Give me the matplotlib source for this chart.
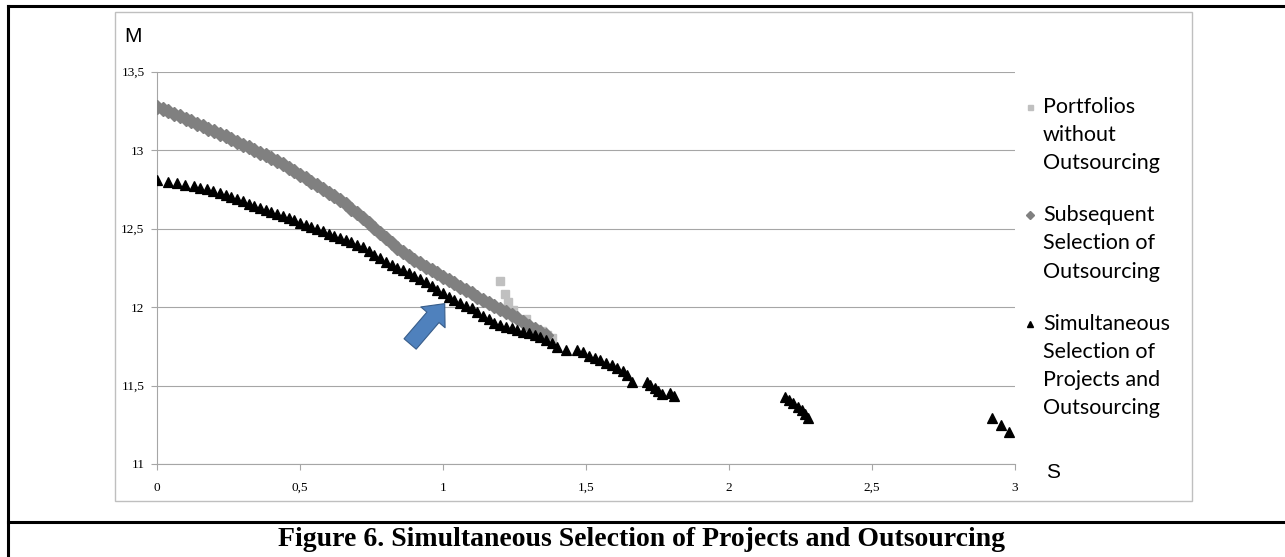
import matplotlib
matplotlib.use("Agg")
import matplotlib.pyplot as plt
from matplotlib.lines import Line2D
from matplotlib.patches import Rectangle, FancyArrowPatch, ArrowStyle

# ---------------- data ----------------
y_ticks = [11, 11.5, 12, 12.5, 13, 13.5]
y_tick_labels = ["11", "11,5", "12", "12,5", "13", "13,5"]
x_ticks = [0, 0.5, 1, 1.5, 2, 2.5, 3]
x_tick_labels = ["0", "0,5", "1", "1,5", "2", "2,5", "3"]

legend_labels = ["Portfolios\nwithout\nOutsourcing",
                 "Subsequent\nSelection of\nOutsourcing",
                 "Simultaneous\nSelection of\nProjects and\nOutsourcing"]

# Portfolios without Outsourcing (light grey squares)
port_s = [1.199, 1.217, 1.226, 1.245, 1.290, 1.327, 1.345, 1.362, 1.380]
port_m = [12.169, 12.082, 12.035, 11.982, 11.925, 11.860, 11.850, 11.823, 11.800]

# Subsequent Selection of Outsourcing (grey diamonds)
subs_s = [0.00, 0.02, 0.04, 0.06, 0.08, 0.10, 0.12, 0.14, 0.16, 0.18,
          0.20, 0.22, 0.24, 0.26, 0.28, 0.30, 0.32, 0.34, 0.36, 0.38,
          0.40, 0.42, 0.44, 0.46, 0.48, 0.50, 0.52, 0.54, 0.56, 0.58,
          0.60, 0.62, 0.64, 0.66, 0.68, 0.70, 0.72, 0.74, 0.76, 0.78,
          0.80, 0.82, 0.84, 0.86, 0.88, 0.90, 0.92, 0.94, 0.96, 0.98,
          1.00, 1.02, 1.04, 1.06, 1.08, 1.10, 1.12, 1.14, 1.16, 1.18,
          1.20, 1.22, 1.24, 1.26, 1.28, 1.30, 1.32, 1.34, 1.36]
subs_m = [13.275, 13.262, 13.247, 13.232, 13.216, 13.200, 13.184, 13.168, 13.152, 13.136,
          13.120, 13.104, 13.088, 13.071, 13.054, 13.036, 13.019, 13.002, 12.985, 12.967,
          12.949, 12.929, 12.909, 12.888, 12.866, 12.844, 12.822, 12.799, 12.776, 12.753,
          12.730, 12.706, 12.681, 12.655, 12.627, 12.598, 12.568, 12.537, 12.505, 12.472,
          12.440, 12.408, 12.378, 12.350, 12.325, 12.300, 12.278, 12.256, 12.235, 12.214,
          12.193, 12.172, 12.151, 12.130, 12.108, 12.087, 12.066, 12.046, 12.026, 12.007,
          11.988, 11.970, 11.950, 11.928, 11.904, 11.880, 11.858, 11.840, 11.825]

# Simultaneous Selection of Projects and Outsourcing (black triangles)
simu_s = [0.000, 0.040, 0.070, 0.099, 0.128, 0.151, 0.175, 0.197, 0.22, 0.24,
          0.26, 0.28, 0.30, 0.32, 0.34, 0.36, 0.38, 0.40, 0.42, 0.44,
          0.46, 0.48, 0.50, 0.52, 0.54, 0.56, 0.58, 0.60, 0.62, 0.64,
          0.66, 0.68, 0.70, 0.72, 0.74, 0.76, 0.78, 0.80, 0.82, 0.84,
          0.86, 0.88, 0.90, 0.92, 0.94, 0.96, 0.98, 1.00, 1.02, 1.04,
          1.06, 1.08, 1.10, 1.12, 1.14, 1.16, 1.18, 1.20, 1.22, 1.24,
          1.26, 1.28, 1.30, 1.32, 1.34, 1.36, 1.38, 1.40, 1.43, 1.47,
          1.49, 1.51, 1.53, 1.55, 1.57, 1.59, 1.61, 1.63, 1.645, 1.66,
          1.712, 1.725, 1.74, 1.752, 1.765, 1.794, 1.808,
          2.196, 2.21, 2.225, 2.24, 2.255, 2.267, 2.277,
          2.92, 2.95, 2.98]
simu_m = [12.810, 12.800, 12.790, 12.780, 12.770, 12.760, 12.750, 12.742, 12.727, 12.713,
          12.699, 12.686, 12.674, 12.660, 12.647, 12.633, 12.620, 12.606, 12.593, 12.579,
          12.566, 12.552, 12.538, 12.524, 12.510, 12.496, 12.482, 12.468, 12.454, 12.440,
          12.426, 12.412, 12.398, 12.380, 12.356, 12.332, 12.310, 12.290, 12.268, 12.250,
          12.235, 12.218, 12.198, 12.178, 12.157, 12.136, 12.112, 12.090, 12.066, 12.044,
          12.025, 12.010, 11.995, 11.970, 11.945, 11.922, 11.900, 11.886, 11.874, 11.864,
          11.854, 11.844, 11.834, 11.823, 11.811, 11.792, 11.770, 11.745, 11.727, 11.727,
          11.712, 11.690, 11.676, 11.660, 11.645, 11.628, 11.610, 11.590, 11.565, 11.525,
          11.525, 11.505, 11.485, 11.465, 11.445, 11.450, 11.434,
          11.430, 11.410, 11.388, 11.365, 11.342, 11.318, 11.295,
          11.296, 11.250, 11.203]

# ---------------- layout ----------------
W, H = 1285, 557
fig = plt.figure(figsize=(W / 100, H / 100), dpi=100)

def fx(x):
    return x / W

def fy(y):
    return 1 - y / H

ax_l, ax_r, ax_t, ax_b = 157, 1015, 71.7, 464
ax = fig.add_axes([fx(ax_l), fy(ax_b), (ax_r - ax_l) / W, (ax_b - ax_t) / H])

c_light = "#c0c0c0"
c_grey = "#808080"
c_black = "#000000"

ax.plot(port_s, port_m, linestyle="none", marker="s", ms=5.2, color=c_light,
        mec=c_light, zorder=3)
ax.plot(subs_s, subs_m, linestyle="none", marker="D", ms=7.4, color=c_grey,
        mec=c_grey, zorder=4)
ax.plot(simu_s, simu_m, linestyle="none", marker="^", ms=6.6, color=c_black,
        mec=c_black, mew=0.9, zorder=5)

ax.set_xlim(0, 3)
ax.set_ylim(11, 13.5)
ax.set_xticks(x_ticks)
ax.set_xticklabels(x_tick_labels)
ax.set_yticks(y_ticks)
ax.set_yticklabels(y_tick_labels)
grid_c = "#a6a6a6"
ax.yaxis.grid(True, color=grid_c, lw=0.8)
ax.set_axisbelow(True)
for sp in ["top", "right"]:
    ax.spines[sp].set_visible(False)
for sp in ["left", "bottom"]:
    ax.spines[sp].set_color(grid_c)
    ax.spines[sp].set_linewidth(0.8)
ax.tick_params(axis="x", direction="out", length=4, width=0.8, color=grid_c,
               pad=9, labelsize=9.5)
ax.tick_params(axis="y", direction="out", length=4, width=0.8, color=grid_c,
               pad=5, labelsize=9.5)
for lab in ax.get_xticklabels() + ax.get_yticklabels():
    lab.set_family("Liberation Serif")

# blue block arrow
arr = FancyArrowPatch(posA=(0.885, 11.765), posB=(1.006, 12.022),
                      arrowstyle=ArrowStyle.Simple(head_length=13, head_width=23,
                                                   tail_width=11.5),
                      mutation_scale=1, fc="#4F81BD", ec="#385D8A", lw=0.8,
                      shrinkA=0, shrinkB=0, zorder=6)
ax.add_patch(arr)

# axis letters
fig.text(fx(124), fy(37), "M", family="Liberation Sans", fontsize=15,
         ha="left", va="center")
fig.text(fx(1046), fy(473), "S", family="Liberation Sans", fontsize=15,
         ha="left", va="center")

# legend
line_y = [[106.7, 135, 163.3], [215, 243.3, 271.7], [324, 351.7, 380, 408.3]]
leg_markers = [("s", c_light, 3.6), ("D", c_grey, 3.6), ("^", c_black, 4.2)]
for lbl, ys, (mk, col, ms) in zip(legend_labels, line_y, leg_markers):
    for line, yy in zip(lbl.split("\n"), ys):
        fig.text(fx(1043), fy(yy), line, family="Lato", fontsize=15.5,
                 ha="left", va="center")
    fig.add_artist(Line2D([fx(1030)], [fy(ys[0])], transform=fig.transFigure,
                          marker=mk, ms=ms, color=col, mec=col, linestyle="none"))

# chart frame
fig.add_artist(Rectangle((fx(115), fy(501)), (1192 - 115) / W, (501 - 12) / H,
                         transform=fig.transFigure, fill=False, ec="#bfbfbf",
                         lw=1.0))

# outer table borders
fig.add_artist(Line2D([fx(8), fx(W)], [fy(6), fy(6)], transform=fig.transFigure,
                      color="black", lw=2.2))
fig.add_artist(Line2D([fx(8), fx(8)], [fy(6), fy(H)], transform=fig.transFigure,
                      color="black", lw=2.2))
fig.add_artist(Line2D([fx(8), fx(W)], [fy(522), fy(522)], transform=fig.transFigure,
                      color="black", lw=2.2))

# caption
fig.text(fx(642), fy(539), "Figure 6. Simultaneous Selection of Projects and Outsourcing",
         family="Liberation Serif", fontweight="bold", fontsize=20,
         ha="center", va="center")

fig.savefig("out.png", dpi=100)
